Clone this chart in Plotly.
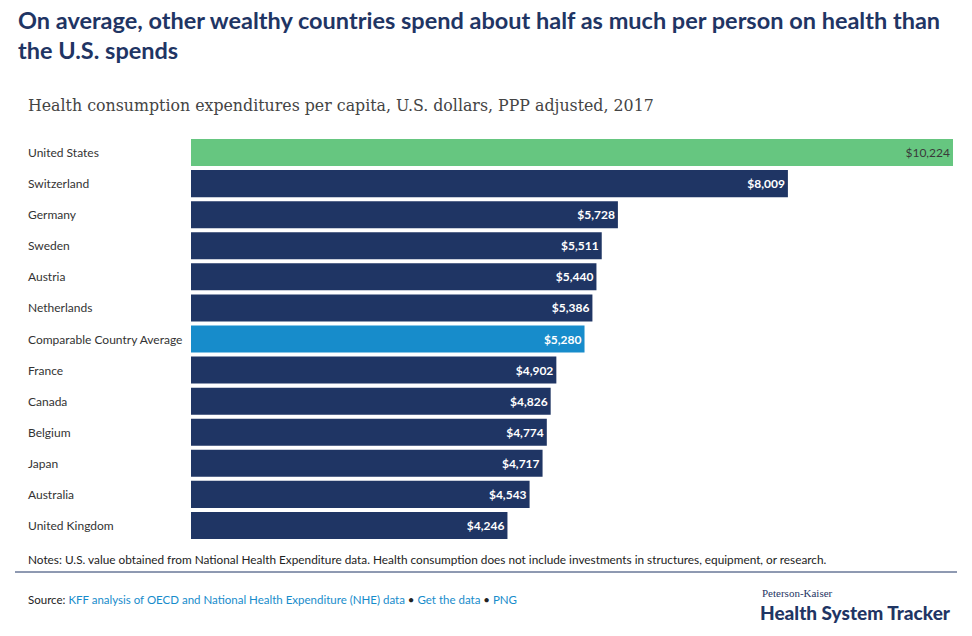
import plotly.graph_objects as go

# === Data ===
COUNTRIES = [
    "United States", "Switzerland", "Germany", "Sweden", "Austria", "Netherlands",
    "Comparable Country Average", "France", "Canada", "Belgium", "Japan",
    "Australia", "United Kingdom",
]
SPENDING = [10224, 8009, 5728, 5511, 5440, 5386, 5280, 4902, 4826, 4774, 4717, 4543, 4246]

TITLE_LINES = [
    "On average, other wealthy countries spend about half as much per person on health than",
    "the U.S. spends",
]
SUBTITLE = "Health consumption expenditures per capita, U.S. dollars, PPP adjusted, 2017"
NOTES = ("Notes: U.S. value obtained from National Health Expenditure data. Health consumption "
         "does not include investments in structures, equipment, or research.")

NAVY = "#1f3564"
GREEN = "#66c680"
BLUE = "#178ccb"

W, H = 972, 636
L, R, T, B = 191, 19, 137, 95
PLOT_H = H - T - B
PLOT_W = W - L - R


def py(y):
    # pixel row -> paper y
    return (H - B - y) / PLOT_H


def px(x):
    # pixel column -> paper x (left-anchored text has ~2px padding)
    return (x - 2 - L) / PLOT_W


colors = []
texts = []
text_colors = []
for name, v in zip(COUNTRIES, SPENDING):
    label = "${:,}".format(v)
    if name == "United States":
        colors.append(GREEN)
        texts.append(label)
        text_colors.append("#3a3a3a")
    elif name == "Comparable Country Average":
        colors.append(BLUE)
        texts.append("<b>" + label + "</b>")
        text_colors.append("white")
    else:
        colors.append(NAVY)
        texts.append("<b>" + label + "</b>")
        text_colors.append("white")

fig = go.Figure()
fig.add_trace(go.Bar(
    x=SPENDING, y=COUNTRIES, orientation="h",
    marker=dict(color=colors, line=dict(width=0)),
    text=texts, textposition="inside", insidetextanchor="end",
    textfont=dict(family="Lato", size=12, color=text_colors),
    cliponaxis=False, hoverinfo="skip",
))

# category labels, left aligned
for name in COUNTRIES:
    fig.add_annotation(x=px(28), y=name, xref="paper", yref="y", text=name,
                       showarrow=False, xanchor="left",
                       font=dict(family="Lato", size=12, color="#333333"))

# title (one annotation per line) & subtitle
for line, ypix in zip(TITLE_LINES, [20, 50]):
    fig.add_annotation(x=px(18), y=py(ypix), xref="paper", yref="paper", text=line,
                       showarrow=False, xanchor="left", yanchor="middle",
                       font=dict(family="Lato", size=23.5, color=NAVY, weight="bold"))
fig.add_annotation(x=px(28), y=py(106), xref="paper", yref="paper", text=SUBTITLE,
                   showarrow=False, xanchor="left", yanchor="middle",
                   font=dict(family="DejaVu Serif", size=15.8, color="#444444"))

# notes, rule, source, logo
fig.add_annotation(x=px(28), y=py(559), xref="paper", yref="paper", text=NOTES,
                   showarrow=False, xanchor="left", yanchor="middle",
                   font=dict(family="Lato", size=11.8, color="#222222"))
fig.add_shape(type="line", xref="paper", yref="paper", x0=px(17), x1=px(959),
              y0=py(572), y1=py(572), line=dict(color=NAVY, width=1))
fig.add_annotation(x=px(28), y=py(599), xref="paper", yref="paper",
                   text=("Source: <span style='color:#178ccb'>KFF analysis of OECD and National "
                         "Health Expenditure (NHE) data</span> \u2022 "
                         "<span style='color:#178ccb'>Get the data</span> \u2022 "
                         "<span style='color:#178ccb'>PNG</span>"),
                   showarrow=False, xanchor="left", yanchor="middle",
                   font=dict(family="Lato", size=11.5, color="#222222"))
fig.add_annotation(x=px(762), y=py(593), xref="paper", yref="paper", text="Peterson-Kaiser",
                   showarrow=False, xanchor="left", yanchor="middle",
                   font=dict(family="Liberation Serif", size=11, color=NAVY))
fig.add_annotation(x=px(760), y=py(612), xref="paper", yref="paper",
                   text="Health System Tracker",
                   showarrow=False, xanchor="left", yanchor="middle",
                   font=dict(family="Lato", size=19, color=NAVY, weight=900))

fig.update_layout(
    width=W, height=H,
    margin=dict(l=L, r=R, t=T, b=B),
    plot_bgcolor="white", paper_bgcolor="white",
    bargap=0.13, showlegend=False,
    xaxis=dict(range=[0, max(SPENDING)], visible=False, fixedrange=True),
    yaxis=dict(autorange="reversed", showticklabels=False, showgrid=False,
               zeroline=False, fixedrange=True),
    uniformtext=dict(minsize=8, mode="show"),
)

# drop the browser's default body margin so the figure fills the window
fig.write_html("out.html", config={"displayModeBar": False},
               post_script="document.body.style.margin = '0';")
